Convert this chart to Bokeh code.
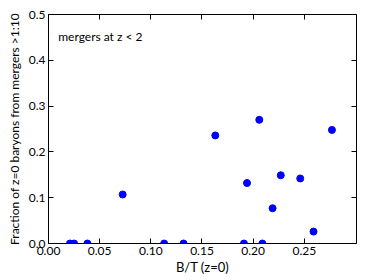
from bokeh.plotting import figure
from bokeh.models import LinearAxis, FixedTicker, NumeralTickFormatter, Label, Range1d
from bokeh.embed import file_html
from bokeh.resources import INLINE

bt = [0.021, 0.025, 0.038, 0.0725, 0.113, 0.132, 0.163, 0.191, 0.194, 0.206, 0.209, 0.219, 0.227, 0.246, 0.259, 0.277]
frac = [0.0, 0.0, 0.0, 0.107, 0.0, 0.0, 0.236, 0.0, 0.132, 0.270, 0.0, 0.077, 0.149, 0.142, 0.026, 0.248]
x_ticks = [0.0, 0.05, 0.10, 0.15, 0.20, 0.25]
y_ticks = [0.0, 0.1, 0.2, 0.3, 0.4, 0.5]

FONT = "Lato"

p = figure(width=374, height=280, output_backend="svg", toolbar_location=None,
           x_range=Range1d(0, 0.301), y_range=Range1d(0, 0.5),
           min_border_left=48, min_border_right=18, min_border_top=14, min_border_bottom=37,
           x_axis_label="B/T (z=0)", y_axis_label="Fraction of z=0 baryons from mergers >1:10")
p.grid.visible = False
p.outline_line_color = "black"
p.outline_line_width = 1
p.background_fill_color = "white"
p.border_fill_color = "white"

for ax in p.xaxis:
    ax.ticker = FixedTicker(ticks=x_ticks)
    ax.formatter = NumeralTickFormatter(format="0.00")
for ax in p.yaxis:
    ax.ticker = FixedTicker(ticks=y_ticks)
    ax.formatter = NumeralTickFormatter(format="0.0")

for ax in list(p.xaxis) + list(p.yaxis):
    ax.major_tick_in = 5
    ax.major_tick_out = 0
    ax.minor_tick_line_color = None
    ax.axis_line_color = None
    ax.major_label_text_font = FONT
    ax.major_label_text_font_size = "12px"
    ax.major_label_text_color = "black"
    ax.axis_label_text_font = FONT
    ax.axis_label_text_font_size = "13px"
    ax.axis_label_text_font_style = "normal"
    ax.axis_label_text_color = "black"
    ax.major_label_standoff = 3
    ax.axis_label_standoff = 1
p.yaxis.axis_label_text_font_size = "12px"
p.yaxis.axis_label_standoff = 4

top = LinearAxis(ticker=FixedTicker(ticks=x_ticks), major_label_text_font_size="0px",
                 major_tick_in=5, major_tick_out=0, minor_tick_line_color=None, axis_line_color=None,
                 major_label_standoff=0)
right = LinearAxis(ticker=FixedTicker(ticks=y_ticks), major_label_text_font_size="0px",
                   major_tick_in=5, major_tick_out=0, minor_tick_line_color=None, axis_line_color=None,
                   major_label_standoff=0)
top.major_label_text_color = None
right.major_label_text_color = None
p.add_layout(top, "above")
p.add_layout(right, "right")

p.scatter(bt, frac, size=7, color="#0000ff", line_color="#0000ff")

p.add_layout(Label(x=0.0095, y=0.452, text="mergers at z < 2", text_font=FONT,
                   text_font_size="12px", text_color="black", text_baseline="alphabetic"))

open("out.html", "w").write(file_html(p, INLINE))
